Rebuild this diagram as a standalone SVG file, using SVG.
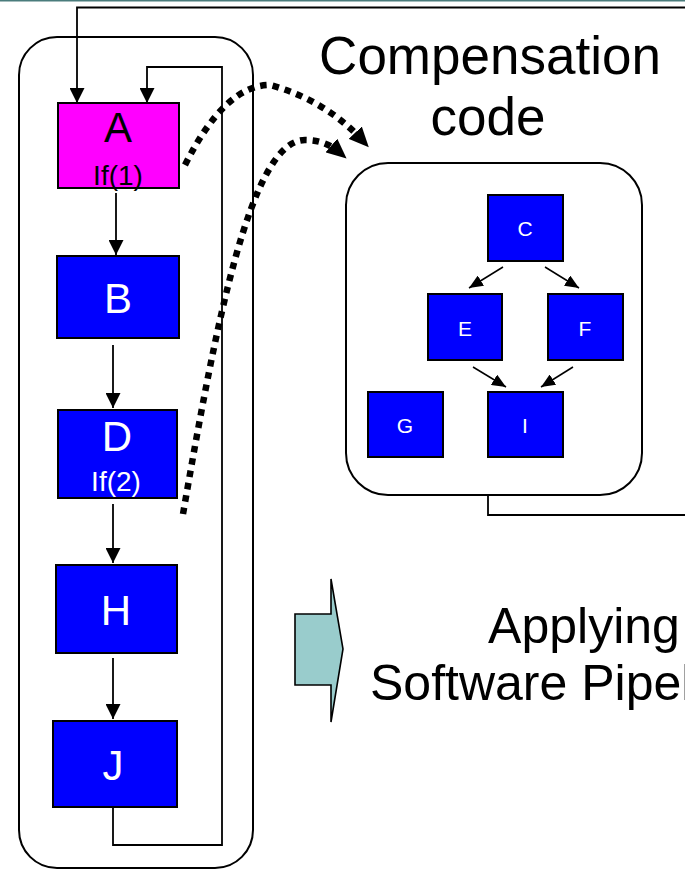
<svg xmlns="http://www.w3.org/2000/svg" width="685" height="870" viewBox="0 0 685 870">
  <defs>
    <marker id="arrow" markerUnits="userSpaceOnUse" markerWidth="15" markerHeight="15" refX="15" refY="7.5" orient="auto">
      <path d="M0,0 L15,7.5 L0,15 z" fill="#000"/>
    </marker>
    <marker id="arrow-small" markerUnits="userSpaceOnUse" markerWidth="14" markerHeight="12" refX="14" refY="6" orient="auto">
      <path d="M0,0 L14,6 L0,12 z" fill="#000"/>
    </marker>
    <marker id="arrow-dot" markerUnits="userSpaceOnUse" markerWidth="20" markerHeight="18" refX="10" refY="9" orient="auto">
      <path d="M0,0 L20,9 L0,18 z" fill="#000"/>
    </marker>
    <style>
      .frame { fill: #fff; stroke: #000; stroke-width: 2; }
      .blk { fill: #0000ff; stroke: #000; stroke-width: 2; }
      .blk-hot { fill: #ff00ff; stroke: #000; stroke-width: 2; }
      .lbl { font-family: "Liberation Sans", Arial, sans-serif; text-anchor: middle; fill: #fff; }
      .lbl-dark { fill: #000; }
      .big { font-size: 42px; }
      .cond { font-size: 28px; }
      .small { font-size: 21px; }
      .title { font-family: "Liberation Sans", Arial, sans-serif; fill: #000; text-anchor: middle; }
      .edge { fill: none; stroke: #000; stroke-width: 1.8; }
      .edge-thin { fill: none; stroke: #000; stroke-width: 1.5; }
      .dotted { fill: none; stroke: #000; stroke-width: 6.5; stroke-dasharray: 6.5 6; }
    </style>
  </defs>

  <!-- header rule -->
  <line x1="0" y1="0.8" x2="685" y2="0.8" stroke="#4a7c7c" stroke-width="1.6"/>

  <!-- loop body frame -->
  <rect class="frame" x="19" y="37" width="234" height="831" rx="38" ry="38"/>

  <!-- compensation code frame -->
  <rect class="frame" x="346" y="163" width="296" height="332" rx="42" ry="42"/>

  <!-- connectors -->
  <g id="connectors">
    <path class="edge" d="M685,7.5 H77 V103" marker-end="url(#arrow)"/>
    <path class="edge" d="M113,807 V845 H222 V67 H147 V103" marker-end="url(#arrow)"/>
    <path class="edge" d="M116,193 V255" marker-end="url(#arrow)"/>
    <path class="edge" d="M113,345 V408" marker-end="url(#arrow)"/>
    <path class="edge" d="M113,504 V563" marker-end="url(#arrow)"/>
    <path class="edge" d="M113,658 V719" marker-end="url(#arrow)"/>
    <path class="edge" d="M488,495 V515 H685"/>

    <path class="edge-thin" d="M503,267 L469,288" marker-end="url(#arrow-small)"/>
    <path class="edge-thin" d="M545,267 L579,288" marker-end="url(#arrow-small)"/>
    <path class="edge-thin" d="M473,367 L506,387" marker-end="url(#arrow-small)"/>
    <path class="edge-thin" d="M573,367 L541,387" marker-end="url(#arrow-small)"/>

    <path class="dotted" d="M185,165 Q225,85 270,85 Q325,100 362,140" marker-end="url(#arrow-dot)"/>
    <path class="dotted" d="M183,514 C215,330 250,140 305,140 Q325,140 339,152" marker-end="url(#arrow-dot)"/>
  </g>

  <!-- loop blocks -->
  <g id="node-A">
    <rect class="blk-hot" x="58" y="103" width="121" height="85"/>
    <text class="lbl lbl-dark big" x="118" y="142">A</text>
    <text class="lbl lbl-dark cond" x="118" y="185">If(1)</text>
  </g>
  <g id="node-B">
    <rect class="blk" x="57" y="256" width="122" height="82"/>
    <text class="lbl big" x="118" y="313">B</text>
  </g>
  <g id="node-D">
    <rect class="blk" x="58" y="410" width="119" height="88"/>
    <text class="lbl big" x="117" y="451">D</text>
    <text class="lbl cond" x="116" y="491">If(2)</text>
  </g>
  <g id="node-H">
    <rect class="blk" x="56" y="565" width="121" height="88"/>
    <text class="lbl big" x="116" y="625">H</text>
  </g>
  <g id="node-J">
    <rect class="blk" x="53" y="721" width="124" height="86"/>
    <text class="lbl big" x="113" y="780">J</text>
  </g>

  <!-- compensation blocks -->
  <g id="node-C">
    <rect class="blk" x="488" y="195" width="75" height="66"/>
    <text class="lbl small" x="525" y="236">C</text>
  </g>
  <g id="node-E">
    <rect class="blk" x="428" y="294" width="74" height="66"/>
    <text class="lbl small" x="465" y="336">E</text>
  </g>
  <g id="node-F">
    <rect class="blk" x="548" y="294" width="75" height="66"/>
    <text class="lbl small" x="585" y="336">F</text>
  </g>
  <g id="node-G">
    <rect class="blk" x="368" y="392" width="75" height="65"/>
    <text class="lbl small" x="405" y="433">G</text>
  </g>
  <g id="node-I">
    <rect class="blk" x="488" y="392" width="75" height="65"/>
    <text class="lbl small" x="525" y="433">I</text>
  </g>

  <!-- transformation arrow -->
  <g id="transform-arrow">
    <path d="M295,614 H331 V579 L343,649 L331,722 V685 H295 z" fill="#99cccc" stroke="#000" stroke-width="1.6" stroke-linejoin="miter"/>
  </g>

  <!-- captions -->
  <g id="caption-compensation">
    <text class="title" font-size="53" x="490" y="74">Compensation</text>
    <text class="title" font-size="53" x="488" y="135">code</text>
  </g>
  <g id="caption-pipelining">
    <text class="title" font-size="50" x="584" y="643">Applying</text>
    <text class="title" font-size="50" x="584" y="700">Software Pipelining</text>
  </g>
</svg>
